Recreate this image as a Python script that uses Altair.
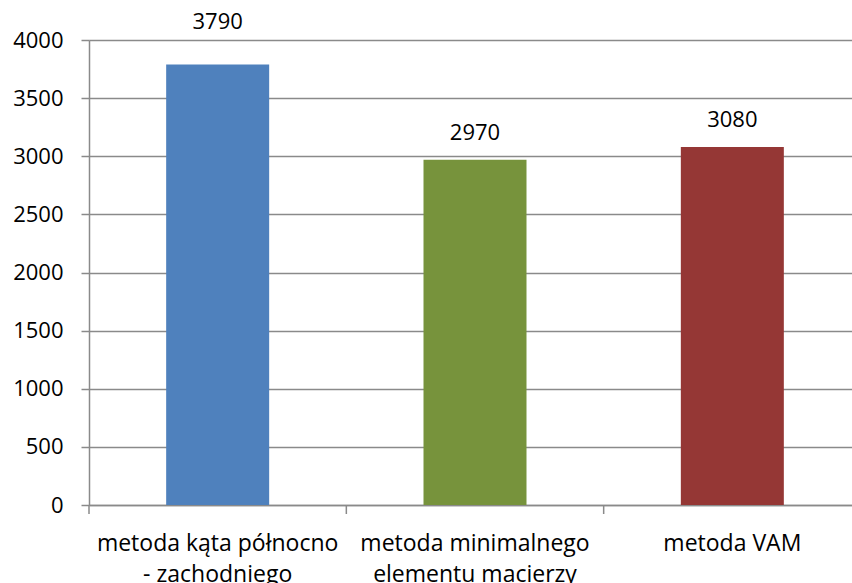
import altair as alt
import pandas as pd

categories = ["metoda kąta północno|- zachodniego", "metoda minimalnego|elementu macierzy", "metoda VAM"]
values = [3790, 2970, 3080]
colors = ["#4F81BD", "#77933C", "#953735"]
y_ticks = [0, 500, 1000, 1500, 2000, 2500, 3000, 3500, 4000]

df = pd.DataFrame({"cat": categories, "value": values, "color": colors})

FONT = "Open Sans"
GRID = "#8a8a8a"

x_scale = alt.Scale(range=[0, 772], paddingInner=0, paddingOuter=0)
x_axis = alt.Axis(title=None, labelAngle=0, ticks=False, domain=True, domainColor=GRID,
                  domainWidth=1.5, labelExpr="split(datum.label, '|')", labelFont=FONT,
                  labelFontSize=23, labelColor="black", labelPadding=27, labelLineHeight=31,
                  labelBaseline="top", labelLimit=0, grid=False)
y_scale = alt.Scale(domain=[0, 4000], nice=False, zero=True)
y_axis = alt.Axis(values=y_ticks, format="d", title=None, grid=True, gridColor=GRID, gridWidth=1.5,
                  tickColor=GRID, tickSize=8, tickWidth=1.5, domainColor=GRID, domainWidth=1.5,
                  labelFont=FONT, labelFontSize=22, labelColor="black", labelPadding=18)

base = alt.Chart(df)

bars = base.mark_bar(size=103).encode(
    x=alt.X("cat:N", sort=categories, scale=x_scale, axis=x_axis),
    y=alt.Y("value:Q", scale=y_scale, axis=y_axis),
    color=alt.Color("color:N", scale=None),
)

ticks = base.mark_rule(color=GRID, strokeWidth=1.5).encode(
    x=alt.X("cat:N", sort=categories, bandPosition=0),
    y=alt.value(465),
    y2=alt.value(474),
)

labels_low = base.transform_filter("datum.value < 3500").mark_text(
    font=FONT, fontSize=22, color="black", baseline="middle", dy=-27
).encode(
    x=alt.X("cat:N", sort=categories),
    y=alt.Y("value:Q"),
    text=alt.Text("value:Q"),
)

labels_high = base.transform_filter("datum.value >= 3500").mark_text(
    font=FONT, fontSize=22, color="black", baseline="middle", dy=-42
).encode(
    x=alt.X("cat:N", sort=categories),
    y=alt.Y("value:Q"),
    text=alt.Text("value:Q"),
)

chart = alt.layer(bars, ticks, labels_low, labels_high).properties(
    width=763,
    height=465,
    autosize=alt.AutoSizeParams(type="none"),
    padding={"left": 89, "top": 40, "right": 0, "bottom": 78},
).configure_view(stroke=None).configure(background="white")

chart.save("out.html", embed_options={"renderer": "svg", "actions": False})
